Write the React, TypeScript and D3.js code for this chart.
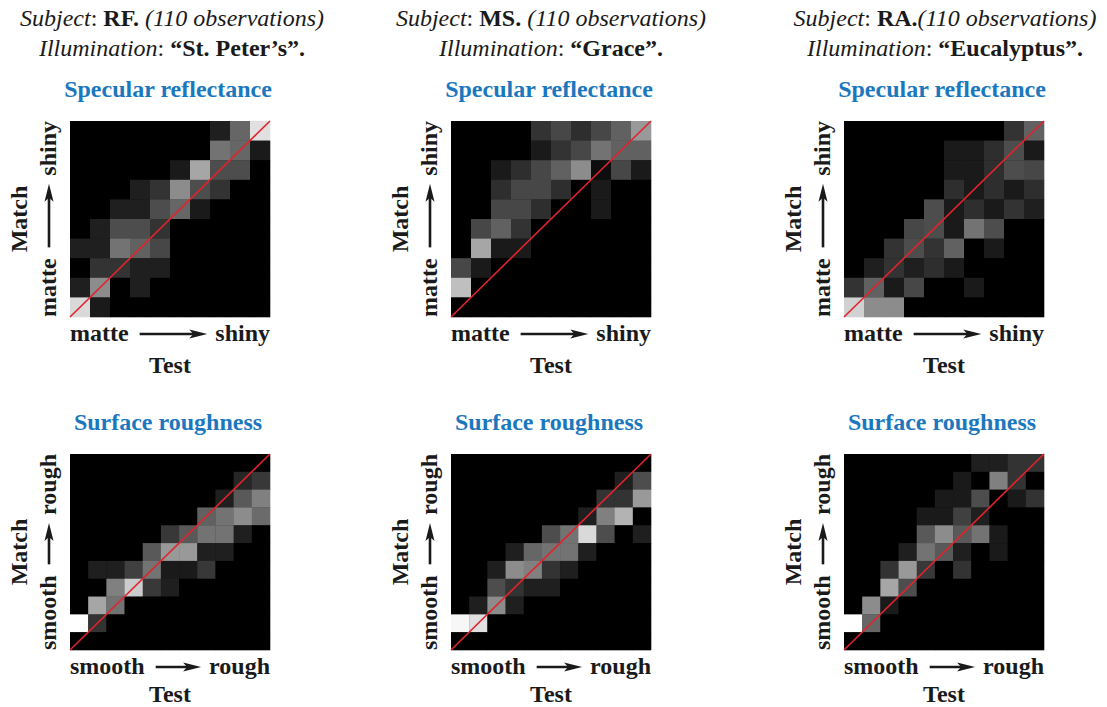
import React from "react";
import * as d3 from "d3";

// cell intensities, row 0 = top (shiny / rough), column 0 = left (matte / smooth)
const rfSpecular: number[][] = [
  [0, 0, 0, 0, 0, 0, 0, 0.12, 0.4, 0.88],
  [0, 0, 0, 0, 0, 0, 0, 0.45, 0.4, 0.1],
  [0, 0, 0, 0, 0, 0.1, 0.65, 0.3, 0.3, 0],
  [0, 0, 0, 0.12, 0.2, 0.55, 0.3, 0.2, 0, 0],
  [0, 0, 0.12, 0.12, 0.3, 0.4, 0.1, 0, 0, 0],
  [0, 0.12, 0.3, 0.3, 0.2, 0, 0, 0, 0, 0],
  [0.12, 0.12, 0.45, 0.38, 0.28, 0, 0, 0, 0, 0],
  [0, 0.2, 0.2, 0.12, 0.12, 0, 0, 0, 0, 0],
  [0.12, 0.55, 0, 0.12, 0, 0, 0, 0, 0, 0],
  [0.85, 0.1, 0, 0, 0, 0, 0, 0, 0, 0],
];
const msSpecular: number[][] = [
  [0, 0, 0, 0, 0.2, 0.28, 0.18, 0.28, 0.38, 0.6],
  [0, 0, 0, 0, 0.1, 0.2, 0.28, 0.45, 0.38, 0.38],
  [0, 0, 0.1, 0.18, 0.28, 0.38, 0.55, 0.05, 0.28, 0.1],
  [0, 0, 0.18, 0.28, 0.28, 0.18, 0, 0.1, 0, 0],
  [0, 0, 0.28, 0.28, 0.18, 0, 0, 0.1, 0, 0],
  [0, 0.28, 0.38, 0.2, 0, 0, 0, 0, 0, 0],
  [0, 0.65, 0.1, 0.1, 0, 0, 0, 0, 0, 0],
  [0.28, 0.1, 0, 0, 0, 0, 0, 0, 0, 0],
  [0.75, 0, 0, 0, 0, 0, 0, 0, 0, 0],
  [0, 0, 0, 0, 0, 0, 0, 0, 0, 0],
];
const raSpecular: number[][] = [
  [0, 0, 0, 0, 0, 0, 0, 0, 0.2, 0.38],
  [0, 0, 0, 0, 0, 0.1, 0.1, 0.18, 0.3, 0.1],
  [0, 0, 0, 0, 0, 0.1, 0.1, 0.18, 0.3, 0.28],
  [0, 0, 0, 0, 0, 0.18, 0.1, 0.18, 0.1, 0.18],
  [0, 0, 0, 0, 0.3, 0.1, 0.18, 0.1, 0.2, 0.12],
  [0, 0, 0, 0.28, 0.3, 0.1, 0.45, 0.3, 0, 0],
  [0, 0, 0.2, 0.3, 0.2, 0.38, 0, 0.1, 0, 0],
  [0, 0.12, 0.2, 0.12, 0.18, 0.1, 0, 0, 0, 0],
  [0.2, 0.38, 0.1, 0.28, 0, 0, 0.1, 0, 0, 0],
  [0.82, 0.55, 0.55, 0, 0, 0, 0, 0, 0, 0],
];
const rfRoughness: number[][] = [
  [0, 0, 0, 0, 0, 0, 0, 0, 0, 0, 0],
  [0, 0, 0, 0, 0, 0, 0, 0, 0, 0.15, 0.22],
  [0, 0, 0, 0, 0, 0, 0, 0, 0.12, 0.35, 0.5],
  [0, 0, 0, 0, 0, 0, 0, 0.38, 0.45, 0.55, 0.42],
  [0, 0, 0, 0, 0, 0.22, 0.35, 0.45, 0.45, 0.12, 0],
  [0, 0, 0, 0, 0.35, 0.6, 0.6, 0.12, 0.12, 0, 0],
  [0, 0.12, 0.12, 0.25, 0.45, 0.1, 0.1, 0.22, 0, 0, 0],
  [0, 0, 0.5, 0.8, 0.22, 0.12, 0, 0, 0, 0, 0],
  [0, 0.65, 0.45, 0, 0, 0, 0, 0, 0, 0, 0],
  [1, 0.2, 0, 0, 0, 0, 0, 0, 0, 0, 0],
  [0, 0, 0, 0, 0, 0, 0, 0, 0, 0, 0],
];
const msRoughness: number[][] = [
  [0, 0, 0, 0, 0, 0, 0, 0, 0, 0, 0],
  [0, 0, 0, 0, 0, 0, 0, 0, 0, 0.12, 0.3],
  [0, 0, 0, 0, 0, 0, 0, 0, 0.2, 0.2, 0.6],
  [0, 0, 0, 0, 0, 0, 0, 0.12, 0.5, 0.7, 0],
  [0, 0, 0, 0, 0, 0.3, 0.45, 0.85, 0.3, 0, 0.12],
  [0, 0, 0, 0.12, 0.4, 0.45, 0.45, 0.12, 0, 0, 0],
  [0, 0, 0.12, 0.55, 0.5, 0.2, 0.12, 0, 0, 0, 0],
  [0, 0, 0.3, 0.2, 0.12, 0.12, 0, 0, 0, 0, 0],
  [0, 0.12, 0.55, 0.12, 0, 0, 0, 0, 0, 0, 0],
  [0.97, 0.88, 0, 0, 0, 0, 0, 0, 0, 0, 0],
  [0, 0, 0, 0, 0, 0, 0, 0, 0, 0, 0],
];
const raRoughness: number[][] = [
  [0, 0, 0, 0, 0, 0, 0, 0.12, 0.12, 0.2, 0.2],
  [0, 0, 0, 0, 0, 0, 0.1, 0, 0.5, 0.2, 0],
  [0, 0, 0, 0, 0, 0.1, 0.1, 0.3, 0, 0.1, 0.2],
  [0, 0, 0, 0, 0.1, 0.1, 0.25, 0.12, 0, 0, 0],
  [0, 0, 0, 0, 0.35, 0.55, 0.35, 0.45, 0.1, 0, 0],
  [0, 0, 0, 0.12, 0.45, 0.35, 0.12, 0, 0.1, 0, 0],
  [0, 0, 0.2, 0.6, 0.22, 0, 0.2, 0, 0, 0, 0],
  [0, 0, 0.65, 0.3, 0, 0, 0, 0, 0, 0, 0],
  [0, 0.55, 0.1, 0, 0, 0, 0, 0, 0, 0, 0],
  [1, 0.4, 0, 0, 0, 0, 0, 0, 0, 0, 0],
  [0, 0, 0, 0, 0, 0, 0, 0, 0, 0, 0],
];

const subjects = ["RF.", "MS.", "RA."];
const illuminations = ["\u201CSt. Peter\u2019s\u201D.", "\u201CGrace\u201D.", "\u201CEucalyptus\u201D."];
const rowTitles = ["Specular reflectance", "Surface roughness"];
const axisWords = [["matte", "shiny"], ["smooth", "rough"]];
const matrices = [
  [rfSpecular, msSpecular, raSpecular],
  [rfRoughness, msRoughness, raRoughness],
];

const W = 1107;
const H = 707;
const FONT = "'Liberation Serif', 'Times New Roman', serif";
const BLUE = "#1b78be";
const colX = [70, 451, 844];
const headX = [172, 551, 945];
const rowY = [121, 454];
const testY = [56, 52];
const size = 200;
const sizeH = 196;

const gray = d3.scaleLinear<string>().domain([0, 1]).range(["#000000", "#ffffff"]);

let ctx: CanvasRenderingContext2D | null = null;
function textWidth(s: string) {
  if (!ctx) ctx = document.createElement("canvas").getContext("2d");
  if (!ctx) return s.length * 12;
  ctx.font = `bold 24px ${FONT}`;
  return ctx.measureText(s).width;
}

const Heatmap: React.FC<{ data: number[][]; x0: number; y0: number }> = ({ data, x0, y0 }) => {
  const n = data.length;
  const xs = d3.scaleBand<number>().domain(d3.range(n)).range([0, size]);
  const ys = d3.scaleBand<number>().domain(d3.range(n)).range([0, sizeH]);
  return (
    <g transform={`translate(${x0},${y0})`}>
      <rect width={size} height={sizeH} fill="#000" />
      {data.map((row, i) =>
        row.map((v, j) => (
          <rect
            key={`${i}-${j}`}
            x={xs(j)!}
            y={ys(i)!}
            width={xs.bandwidth() + 0.3}
            height={ys.bandwidth() + 0.3}
            fill={gray(v)}
          />
        ))
      )}
      <line x1={0} y1={sizeH} x2={size} y2={0} stroke="#e3232c" strokeWidth={1.6} />
    </g>
  );
};

// word ⟶ word along a length, drawn in local coords (horizontal)
const ArrowLabel: React.FC<{ words: string[]; len: number; baseline: number }> = ({ words, len, baseline }) => {
  const a = textWidth(words[0]) + 11;
  const b = len - textWidth(words[1]) - 8;
  const ay = baseline - 7;
  return (
    <g fontFamily={FONT} fontWeight="bold" fontSize={24} fill="#1a1a1a">
      <text x={0} y={baseline}>{words[0]}</text>
      <text x={len} y={baseline} textAnchor="end">{words[1]}</text>
      <line x1={a} y1={ay} x2={b - 12} y2={ay} stroke="#1a1a1a" strokeWidth={2.6} />
      <path d={`M${b},${ay} L${b - 18},${ay - 4.5} L${b - 14},${ay} L${b - 18},${ay + 4.5} Z`} fill="#1a1a1a" />
    </g>
  );
};

const App: React.FC = () => {
  return (
    <svg width={W} height={H} style={{ position: "absolute", left: 0, top: 0, background: "#fff" }}>
      {subjects.map((s, c) => (
        <g key={`h${c}`} fontFamily={FONT} fontSize={24} fill="#1a1a1a" textAnchor="middle">
          <text x={headX[c]} y={26}>
            <tspan fontStyle="italic">Subject</tspan>
            <tspan>: </tspan>
            <tspan fontWeight="bold">{s}</tspan>
            <tspan fontStyle="italic">{c === 2 ? "(110 observations)" : " (110 observations)"}</tspan>
          </text>
          <text x={headX[c]} y={56}>
            <tspan fontStyle="italic">Illumination</tspan>
            <tspan>: </tspan>
            <tspan fontWeight="bold">{illuminations[c]}</tspan>
          </text>
        </g>
      ))}
      {matrices.map((row, r) =>
        row.map((m, c) => {
          const x0 = colX[c];
          const y0 = rowY[r];
          return (
            <g key={`p${r}-${c}`}>
              <text
                x={x0 + size / 2 - 2}
                y={y0 - 24}
                textAnchor="middle"
                fontFamily={FONT}
                fontWeight="bold"
                fontSize={24}
                fill={BLUE}
              >
                {rowTitles[r]}
              </text>
              <Heatmap data={m} x0={x0} y0={y0} />
              <g transform={`translate(${x0},${y0 + sizeH})`}>
                <ArrowLabel words={axisWords[r]} len={size} baseline={24} />
                <text
                  x={size / 2}
                  y={testY[r]}
                  textAnchor="middle"
                  fontFamily={FONT}
                  fontWeight="bold"
                  fontSize={24}
                  fill="#1a1a1a"
                >
                  Test
                </text>
              </g>
              <g transform={`translate(${x0},${y0 + sizeH}) rotate(-90)`}>
                <ArrowLabel words={axisWords[r]} len={sizeH} baseline={-14} />
                <text
                  x={sizeH / 2}
                  y={-43}
                  textAnchor="middle"
                  fontFamily={FONT}
                  fontWeight="bold"
                  fontSize={24}
                  fill="#1a1a1a"
                >
                  Match
                </text>
              </g>
            </g>
          );
        })
      )}
    </svg>
  );
};

export default App;
